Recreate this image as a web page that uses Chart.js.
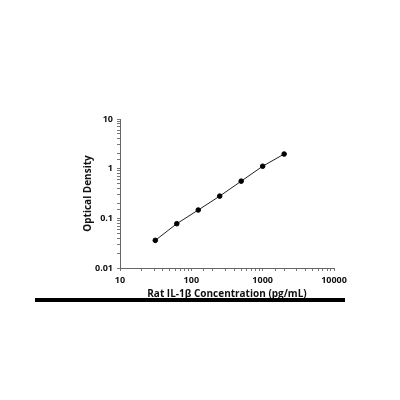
<!DOCTYPE html>
<html lang="en">
  <head>
    <meta charset="UTF-8" />
    <title>Rat IL-1β standard curve</title>
    <script src="https://cdn.jsdelivr.net/npm/chart.js"></script>
    <style>
      html, body { margin: 0; padding: 0; background: #fff; }
      #wrap { position: relative; width: 400px; height: 400px; }
      #rule {
        position: absolute; left: 35px; top: 298px;
        width: 310px; height: 4px; background: #000;
      }
    </style>
  </head>
  <body>
    <div id="wrap">
      <canvas id="curve" width="400" height="400"></canvas>
      <div id="rule"></div>
    </div>

    <script>
      // standard concentrations (pg/mL) and measured OD
      const concentrations = [31.25, 62.5, 125, 250, 500, 1000, 2000];
      const opticalDensity = [0.036, 0.078, 0.147, 0.28, 0.56, 1.12, 1.97];
      const xTickLabels = [10, 100, 1000, 10000];
      const yTickLabels = [0.01, 0.1, 1, 10];

      const points = concentrations.map((c, i) => ({ x: c, y: opticalDensity[i] }));
      const tickFont = { family: "Open Sans", size: 9, weight: "bold" };

      new Chart(document.getElementById("curve"), {
        type: "scatter",
        data: {
          datasets: [
            {
              data: points,
              showLine: true,
              borderColor: "#222",
              borderWidth: 1,
              pointRadius: 2.3,
              pointBackgroundColor: "#000",
              pointBorderColor: "#000",
            },
          ],
        },
        options: {
          responsive: false,
          animation: false,
          layout: { padding: { left: 82, top: 119, right: 66, bottom: 100 } },
          plugins: { legend: { display: false }, tooltip: { enabled: false } },
          scales: {
            x: {
              type: "logarithmic",
              min: 10,
              max: 10000,
              afterFit: (s) => { s.height = 32; },
              border: { color: "#666", width: 1 },
              grid: { drawOnChartArea: false, tickLength: 3, color: "#777" },
              ticks: {
                autoSkip: false,
                maxRotation: 0,
                color: "#111",
                font: tickFont,
                padding: 4,
                callback: (v) => (xTickLabels.includes(v) ? String(v) : ""),
              },
              title: {
                display: true,
                text: "Rat IL-1β Concentration (pg/mL)",
                color: "#111",
                font: { family: "Open Sans", size: 10, weight: "bold" },
                padding: { top: 3, bottom: 0 },
              },
            },
            y: {
              type: "logarithmic",
              min: 0.01,
              max: 10,
              afterFit: (s) => { s.width = 38; },
              border: { color: "#666", width: 1 },
              grid: { drawOnChartArea: false, tickLength: 3, color: "#777" },
              ticks: {
                autoSkip: false,
                color: "#111",
                font: tickFont,
                padding: 4,
                callback: (v) => (yTickLabels.includes(v) ? String(v) : ""),
              },
              title: {
                display: true,
                text: "Optical Density",
                color: "#111",
                font: { family: "Open Sans", size: 10, weight: "bold" },
                padding: { top: 0, bottom: 4 },
              },
            },
          },
        },
      });
    </script>
  </body>
</html>
